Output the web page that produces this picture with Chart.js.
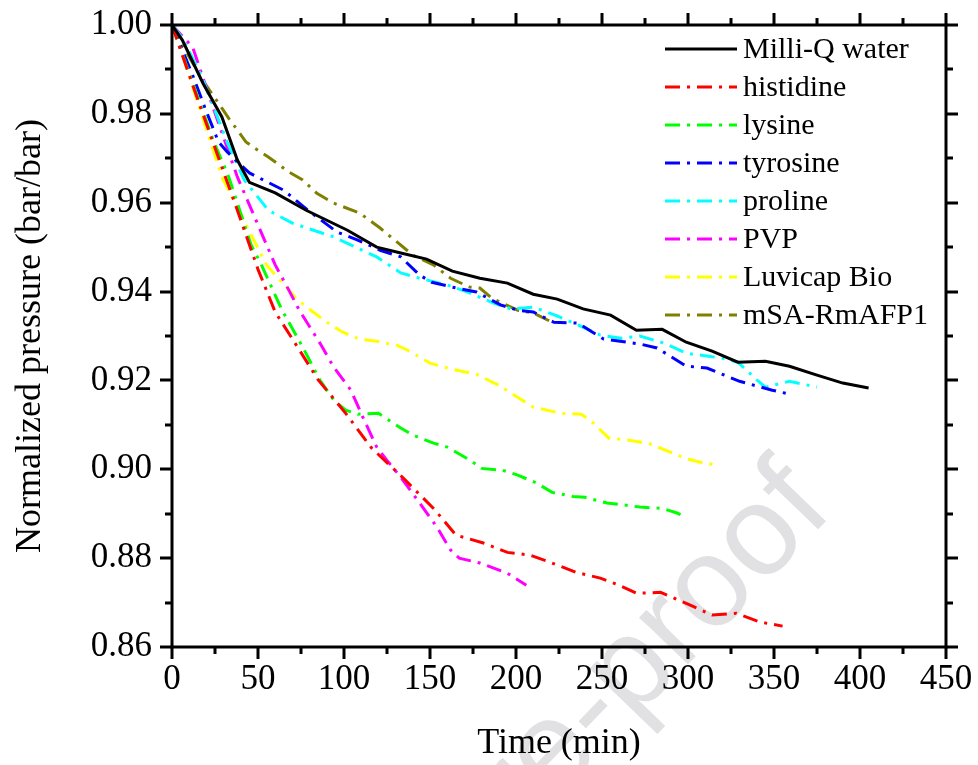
<!DOCTYPE html>
<html>
<head>
<meta charset="utf-8">
<script src="https://cdn.jsdelivr.net/npm/chart.js@4.4.0/dist/chart.umd.min.js"></script>
<style>
  html, body { margin: 0; padding: 0; background: #fff; }
  canvas { display: block; }
</style>
</head>
<body>
<canvas id="c" width="978" height="765"></canvas>
<script>
// ---- data: time (min) and normalized pressure (bar/bar) per sample ----
const seriesNames = ['Milli-Q water', 'histidine', 'lysine', 'tyrosine', 'proline', 'PVP', 'Luvicap Bio', 'mSA-RmAFP1'];
const seriesColors = ['#000000', '#ff0000', '#00ff00', '#0000ff', '#00ffff', '#ff00ff', '#ffff00', '#808000'];

const waterTime = [0, 6, 18, 29, 38, 45, 60, 78, 102, 119, 133, 148, 163, 179, 195, 210, 224, 239, 255, 270, 285, 299, 314, 329, 345, 359, 375, 390, 405];
const waterP = [1.000, 0.9966, 0.9869, 0.9793, 0.9696, 0.9646, 0.9622, 0.9583, 0.9538, 0.9500, 0.9487, 0.9473, 0.9446, 0.9430, 0.9419, 0.9394, 0.9383, 0.9361, 0.9347, 0.9313, 0.9315, 0.9286, 0.9266, 0.9241, 0.9243, 0.9232, 0.9212, 0.9194, 0.9183];

const histidineTime = [0, 12, 24, 38, 50, 60, 73, 85, 101, 116, 134, 153, 165, 181, 195, 208, 221, 235, 249, 260, 270, 284, 299, 314, 328, 342, 355];
const histidineP = [1.000, 0.9865, 0.9734, 0.9583, 0.9450, 0.9354, 0.9275, 0.9201, 0.9126, 0.9048, 0.8982, 0.8908, 0.8852, 0.8834, 0.8813, 0.8807, 0.8789, 0.8768, 0.8755, 0.8739, 0.8721, 0.8723, 0.8698, 0.8672, 0.8676, 0.8656, 0.8647];

const lysineTime = [0, 12, 24, 33, 46, 52, 64, 76, 86, 94, 101, 108, 120, 133, 140, 152, 160, 173, 180, 192, 201, 212, 221, 233, 240, 253, 260, 272, 285, 294, 299];
const lysineP = [1.000, 0.9870, 0.9740, 0.9658, 0.9505, 0.9460, 0.9358, 0.9275, 0.9201, 0.9156, 0.9133, 0.9124, 0.9126, 0.9093, 0.9077, 0.9059, 0.9050, 0.9021, 0.9002, 0.8998, 0.8987, 0.8969, 0.8948, 0.8939, 0.8937, 0.8924, 0.8921, 0.8915, 0.8912, 0.8901, 0.8892];

const tyrosineTime = [0, 6, 12, 19, 27, 32, 38, 45, 65, 79, 96, 108, 121, 133, 144, 151, 163, 177, 191, 201, 210, 222, 236, 251, 272, 282, 299, 311, 330, 349, 359];
const tyrosineP = [1.000, 0.9944, 0.9887, 0.9815, 0.9737, 0.9715, 0.9692, 0.9667, 0.9628, 0.9583, 0.9534, 0.9516, 0.9493, 0.9478, 0.9437, 0.9421, 0.9410, 0.9399, 0.9370, 0.9358, 0.9354, 0.9331, 0.9329, 0.9293, 0.9282, 0.9273, 0.9232, 0.9228, 0.9198, 0.9178, 0.9169];

const prolineTime = [0, 6, 17, 32, 42, 56, 70, 94, 119, 133, 144, 160, 173, 187, 197, 210, 224, 236, 249, 261, 272, 286, 299, 311, 320, 329, 334, 340, 345, 359, 375];
const prolineP = [1.000, 0.9971, 0.9887, 0.9737, 0.9651, 0.9583, 0.9554, 0.9523, 0.9478, 0.9442, 0.9430, 0.9415, 0.9397, 0.9374, 0.9361, 0.9365, 0.9345, 0.9325, 0.9302, 0.9295, 0.9300, 0.9284, 0.9261, 0.9255, 0.9250, 0.9241, 0.9223, 0.9201, 0.9185, 0.9198, 0.9185];

const pvpTime = [0, 12, 24, 38, 55, 60, 67, 74, 86, 94, 104, 111, 119, 125, 133, 144, 154, 162, 167, 179, 195, 206];
const pvpP = [1.000, 0.9950, 0.9813, 0.9658, 0.9505, 0.9460, 0.9410, 0.9358, 0.9284, 0.9230, 0.9178, 0.9117, 0.9050, 0.9020, 0.8982, 0.8924, 0.8870, 0.8818, 0.8800, 0.8789, 0.8766, 0.8739];

const luvicapTime = [0, 7, 16, 29, 49, 55, 61, 67, 72, 79, 90, 99, 109, 119, 131, 137, 150, 163, 177, 191, 198, 210, 226, 238, 245, 254, 265, 278, 290, 298, 307, 315];
const luvicapP = [1.000, 0.9921, 0.9813, 0.9658, 0.9505, 0.9460, 0.9433, 0.9408, 0.9385, 0.9363, 0.9331, 0.9309, 0.9293, 0.9288, 0.9279, 0.9268, 0.9239, 0.9225, 0.9214, 0.9187, 0.9169, 0.9140, 0.9126, 0.9124, 0.9104, 0.9070, 0.9066, 0.9057, 0.9038, 0.9025, 0.9016, 0.9011];

const afpTime = [0, 11, 19, 29, 33, 43, 48, 56, 68, 76, 84, 94, 109, 121, 140, 152, 162, 173, 179, 186, 201, 210, 222];
const afpP = [1.000, 0.9921, 0.9869, 0.9813, 0.9790, 0.9737, 0.9723, 0.9703, 0.9669, 0.9651, 0.9622, 0.9599, 0.9577, 0.9543, 0.9482, 0.9460, 0.9430, 0.9410, 0.9408, 0.9385, 0.9358, 0.9352, 0.9329];

const xTickValues = [0, 50, 100, 150, 200, 250, 300, 350, 400, 450];
const yTickValues = [0.86, 0.88, 0.90, 0.92, 0.94, 0.96, 0.98, 1.00];

// ---- styling ----
const SERIF = "'Liberation Serif', 'Times New Roman', serif";
const DASH_DOT = [15, 7, 3, 7];

const seriesTimes = [waterTime, histidineTime, lysineTime, tyrosineTime, prolineTime, pvpTime, luvicapTime, afpTime];
const seriesValues = [waterP, histidineP, lysineP, tyrosineP, prolineP, pvpP, luvicapP, afpP];

const datasets = seriesNames.map((name, i) => ({
  label: name,
  data: seriesTimes[i].map((t, k) => ({ x: t, y: seriesValues[i][k] })),
  borderColor: seriesColors[i],
  backgroundColor: seriesColors[i],
  borderWidth: 3,
  borderDash: i === 0 ? [] : DASH_DOT,
  pointRadius: 0,
  tension: 0,
  fill: false
}));

// faint diagonal stamp across the figure
const stampPlugin = {
  id: 'stamp',
  beforeDraw(chart) {
    const ctx = chart.ctx;
    ctx.save();
    ctx.translate(835, 512);
    ctx.rotate(-46 * Math.PI / 180);
    ctx.font = "128px 'Liberation Sans', Arial, sans-serif";
    ctx.fillStyle = '#e1e1e3';
    ctx.textAlign = 'right';
    ctx.textBaseline = 'alphabetic';
    ctx.fillText('Journal Pre-proof', 0, 0);
    ctx.restore();
  }
};

// closed frame with outward major/minor ticks on all four sides
const framePlugin = {
  id: 'frame',
  afterDraw(chart) {
    const { ctx, chartArea: a } = chart;
    const xs = chart.scales.x, ys = chart.scales.y;
    ctx.save();
    ctx.strokeStyle = '#000';
    ctx.lineWidth = 3;
    ctx.lineCap = 'butt';
    ctx.setLineDash([]);
    ctx.strokeRect(a.left, a.top, a.right - a.left, a.bottom - a.top);
    ctx.beginPath();
    for (let v = 0; v <= 450; v += 25) {
      const px = Math.round(xs.getPixelForValue(v));
      const len = v % 50 === 0 ? 12 : 7;
      ctx.moveTo(px, a.bottom); ctx.lineTo(px, a.bottom + len);
      ctx.moveTo(px, a.top); ctx.lineTo(px, a.top - len);
    }
    for (let k = 0; k <= 14; k++) {
      const v = 0.86 + k * 0.01;
      const py = Math.round(ys.getPixelForValue(v));
      const len = k % 2 === 0 ? 12 : 7;
      ctx.moveTo(a.left, py); ctx.lineTo(a.left - len, py);
      ctx.moveTo(a.right, py); ctx.lineTo(a.right + len, py);
    }
    ctx.stroke();
    ctx.restore();
  }
};

// legend in the upper right of the plot area
const legendPlugin = {
  id: 'insideLegend',
  afterDatasetsDraw(chart) {
    const { ctx, chartArea: a } = chart;
    const x0 = a.right - 281, x1 = a.right - 209, tx = a.right - 203;
    ctx.save();
    ctx.font = '30px ' + SERIF;
    ctx.textAlign = 'left';
    ctx.textBaseline = 'middle';
    chart.data.datasets.forEach((ds, i) => {
      const y = a.top + 24 + i * 38;
      ctx.beginPath();
      ctx.setLineDash(ds.borderDash);
      ctx.strokeStyle = ds.borderColor;
      ctx.lineWidth = 3;
      ctx.moveTo(x0, y); ctx.lineTo(x1, y);
      ctx.stroke();
      ctx.setLineDash([]);
      ctx.fillStyle = '#000';
      ctx.fillText(ds.label, tx, y + 1);
    });
    ctx.restore();
  }
};

new Chart(document.getElementById('c'), {
  type: 'line',
  data: { datasets },
  plugins: [stampPlugin, legendPlugin, framePlugin],
  options: {
    responsive: false,
    animation: false,
    devicePixelRatio: 1,
    layout: { padding: { top: 25, right: 32, left: 0, bottom: 0 } },
    plugins: { legend: { display: false }, tooltip: { enabled: false } },
    scales: {
      x: {
        type: 'linear',
        min: 0, max: 450,
        afterBuildTicks: s => { s.ticks = xTickValues.map(v => ({ value: v })); },
        afterFit: s => { s.height = 118; s.paddingLeft = 0; s.paddingRight = 0; },
        grid: { display: false, drawTicks: false },
        border: { display: false },
        ticks: { color: '#000', font: { family: SERIF, size: 35 }, padding: 12, maxRotation: 0, autoSkip: false },
        title: { display: true, text: 'Time (min)', color: '#000', font: { family: SERIF, size: 36 }, padding: { top: 0, bottom: 0 } }
      },
      y: {
        type: 'linear',
        min: 0.86, max: 1.00,
        afterBuildTicks: s => { s.ticks = yTickValues.map(v => ({ value: v })); },
        afterFit: s => { s.width = 172; s.paddingTop = 0; s.paddingBottom = 0; },
        grid: { display: false, drawTicks: false },
        border: { display: false },
        ticks: { color: '#000', font: { family: SERIF, size: 35 }, padding: 20, autoSkip: false,
                 callback: v => Number(v).toFixed(2) },
        title: { display: true, text: 'Normalized pressure (bar/bar)', color: '#000', font: { family: SERIF, size: 36 }, padding: { top: 9, bottom: 0 } }
      }
    }
  }
});
</script>
</body>
</html>
